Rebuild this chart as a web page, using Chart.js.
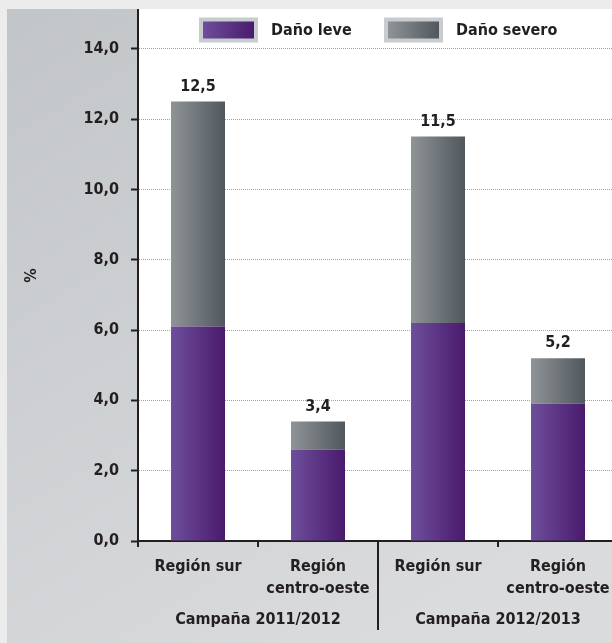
<!DOCTYPE html>
<html>
<head>
<meta charset="utf-8">
<script src="https://cdn.jsdelivr.net/npm/chart.js@4"></script>
<style>
  html, body { margin: 0; padding: 0; overflow: hidden; background: #ececec; }
  canvas { display: block; }
</style>
</head>
<body>
<canvas id="chart" width="630" height="643"></canvas>
<script>
const regions = ['Región sur', ['Región', 'centro-oeste'], 'Región sur', ['Región', 'centro-oeste']];
const campaigns = ['Campaña 2011/2012', 'Campaña 2012/2013'];
const leve = [6.1, 2.6, 6.2, 3.9];
const severo = [6.4, 0.8, 5.3, 1.3];
const yTicks = [0, 2, 4, 6, 8, 10, 12, 14];

const INK = '#231f20';
const FAMILY = "'DejaVu Sans Condensed', 'DejaVu Sans', sans-serif";
const font = { family: FAMILY, size: 16, weight: 'bold' };
const PURPLE = ['#6d4f9b', '#4a1a6c'];
const GRAY = ['#8f9497', '#50575d'];
const BAR_SHARE = 0.45;

const fmt = v => Number(v).toFixed(1).replace('.', ',');

const hGrad = (ctx, x0, x1, cols) => {
  const g = ctx.createLinearGradient(x0, 0, x1, 0);
  g.addColorStop(0, cols[0]);
  g.addColorStop(1, cols[1]);
  return g;
};

// gradient runs across each bar, left light -> right dark
const barFill = cols => context => {
  const chart = context.chart;
  const xs = chart.scales.x;
  if (!xs || context.dataIndex === undefined) return cols[1];
  const step = xs.getPixelForValue(1) - xs.getPixelForValue(0);
  const cx = xs.getPixelForValue(context.dataIndex);
  if (!isFinite(step) || !isFinite(cx)) return cols[1];
  const half = step * BAR_SHARE / 2;
  return hGrad(chart.ctx, cx - half, cx + half, cols);
};

const decor = {
  id: 'decor',
  beforeDraw(chart) {
    const { ctx, width, height, chartArea } = chart;
    const top = Math.round(chartArea.top);
    ctx.save();
    ctx.fillStyle = '#ececec';
    ctx.fillRect(0, 0, width, height);
    const g = ctx.createLinearGradient(0, 0, width * 0.6, height);
    g.addColorStop(0, '#c2c5c8');
    g.addColorStop(1, '#d9dbdd');
    ctx.fillStyle = g;
    ctx.fillRect(7, top - 1, width - 7, height - top + 1);
    ctx.fillStyle = '#ffffff';
    ctx.fillRect(chartArea.left, top - 1, chartArea.right - chartArea.left, chartArea.bottom - top + 1);
    ctx.restore();
  },
  afterDatasetsDraw(chart) {
    const ctx = chart.ctx;
    const meta = chart.getDatasetMeta(1);
    ctx.save();
    ctx.font = `bold 16px ${FAMILY}`;
    ctx.fillStyle = INK;
    ctx.textAlign = 'center';
    ctx.textBaseline = 'middle';
    meta.data.forEach((bar, i) => {
      ctx.fillText(fmt(leve[i] + severo[i]), bar.x, bar.y - 15);
    });
    ctx.restore();
  },
  afterDraw(chart) {
    const { ctx, chartArea, height } = chart;
    const xs = chart.scales.x;
    ctx.save();
    // separator between the two campaigns
    const sep = (xs.getPixelForValue(1) + xs.getPixelForValue(2)) / 2;
    ctx.strokeStyle = INK;
    ctx.lineWidth = 2;
    ctx.beginPath();
    ctx.moveTo(sep, chartArea.bottom);
    ctx.lineTo(sep, height - 13);
    ctx.stroke();

    // legend
    ctx.font = `bold 16px ${FAMILY}`;
    ctx.textBaseline = 'middle';
    ctx.textAlign = 'left';
    const boxW = 59, boxH = 25, gap = 13, itemGap = 32;
    const items = chart.data.datasets.map(d => ({ text: d.label, cols: d.cols }));
    const widths = items.map(it => boxW + gap + ctx.measureText(it.text).width);
    const total = widths.reduce((a, b) => a + b, 0) + itemGap * (items.length - 1);
    let x = Math.round((chartArea.left + chartArea.right) / 2 - total / 2);
    const cy = Math.round(chartArea.top) + 20;
    items.forEach((it, i) => {
      ctx.fillStyle = '#c9ccce';
      ctx.fillRect(x, cy - boxH / 2, boxW, boxH);
      ctx.fillStyle = hGrad(ctx, x + 4, x + boxW - 4, it.cols);
      ctx.fillRect(x + 4, cy - boxH / 2 + 4, boxW - 8, boxH - 8);
      ctx.fillStyle = INK;
      ctx.fillText(it.text, x + boxW + gap, cy + 1);
      x += Math.round(widths[i] + itemGap);
    });
    ctx.restore();
  }
};

new Chart(document.getElementById('chart'), {
  type: 'bar',
  data: {
    labels: regions,
    datasets: [
      { label: 'Daño leve', data: leve, cols: PURPLE, backgroundColor: barFill(PURPLE) },
      { label: 'Daño severo', data: severo, cols: GRAY, backgroundColor: barFill(GRAY) }
    ]
  },
  options: {
    responsive: false,
    animation: false,
    devicePixelRatio: 1,
    categoryPercentage: BAR_SHARE,
    barPercentage: 1,
    layout: { padding: { top: 10, right: 12, left: 0, bottom: 0 } },
    plugins: { legend: { display: false }, tooltip: { enabled: false } },
    scales: {
      x: {
        stacked: true,
        afterFit: s => { s.height = 60; },
        ticks: { font: { ...font, lineHeight: 1.375 }, color: INK, padding: 9, maxRotation: 0, autoSkip: false },
        grid: { drawOnChartArea: false, offset: true, color: INK, lineWidth: 2, tickLength: 6, tickWidth: 2, tickColor: INK },
        border: { color: INK, width: 2 }
      },
      x2: {
        type: 'category',
        labels: campaigns,
        position: 'bottom',
        offset: true,
        afterFit: s => { s.height = 42; },
        ticks: { font, color: INK, padding: 9, maxRotation: 0, autoSkip: false },
        grid: { display: false, drawTicks: false },
        border: { display: false }
      },
      y: {
        stacked: true,
        min: 0,
        max: 15.1,
        afterBuildTicks: s => { s.ticks = yTicks.map(v => ({ value: v })); },
        afterFit: s => { s.width = 138; s.paddingTop = 0; s.paddingBottom = 0; },
        ticks: { callback: v => fmt(v), font, color: INK, padding: 12 },
        grid: { color: '#a3a3a3', lineWidth: 1, tickLength: 7, tickWidth: 2, tickColor: INK },
        border: { color: INK, width: 2, dash: [1, 1] },
        title: { display: true, text: '%', font, color: INK, padding: { top: 22 } }
      }
    }
  },
  plugins: [decor]
});
</script>
</body>
</html>
